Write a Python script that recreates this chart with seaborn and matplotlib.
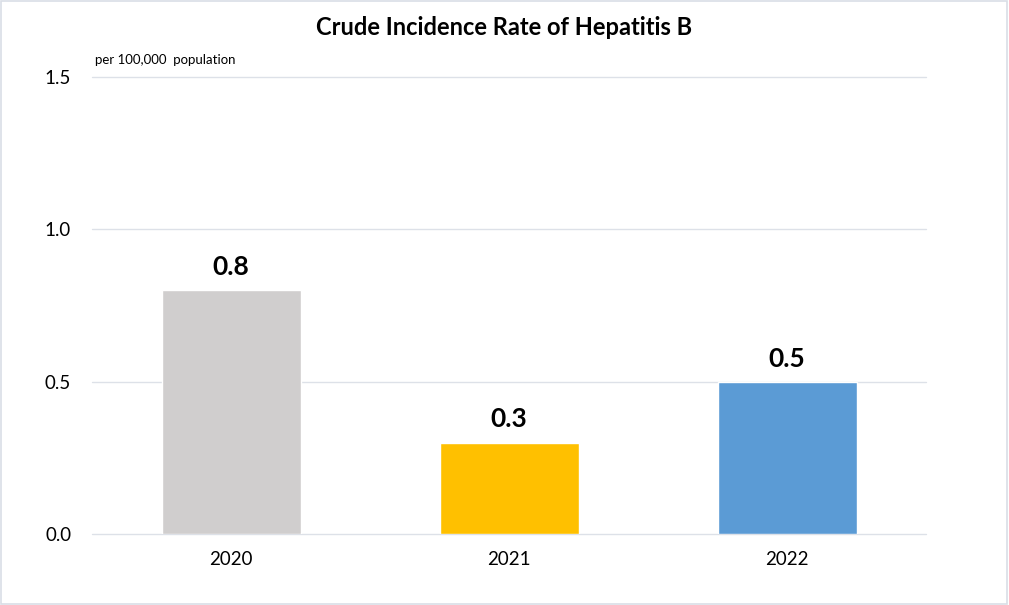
"""
Crude Incidence Rate of Hepatitis B - bar chart
"""
import matplotlib
matplotlib.use('Agg')
import matplotlib.pyplot as plt
import seaborn as sns
import pandas as pd
from matplotlib.patches import Rectangle

# Datos
years = ['2020', '2021', '2022']
rates = [0.8, 0.3, 0.5]
bar_colors = ['#D0CECE', '#FFC000', '#5B9BD5']
y_ticks = [0.0, 0.5, 1.0, 1.5]

df = pd.DataFrame({'year': years, 'rate': rates})

sns.set_style('white')
plt.rcParams['font.family'] = ['Lato', 'DejaVu Sans']
plt.rcParams['text.color'] = '#000000'

fig = plt.figure(figsize=(10.09, 6.05), dpi=100)
ax = fig.add_axes([0.0912, 0.1174, 0.8266, 0.7554])

sns.barplot(data=df, x='year', y='rate', hue='year', palette=bar_colors,
            width=0.5, legend=False, saturation=1, ax=ax, zorder=3)

ax.set_ylim(0, 1.5)
ax.set_yticks(y_ticks)
ax.set_yticklabels([f'{v:.1f}' for v in y_ticks])
ax.yaxis.grid(True, color='#DDE1E8', linewidth=1, zorder=0)
ax.set_axisbelow(True)
# que las líneas de 0.0 y 1.5 no queden recortadas
for gl in ax.get_ygridlines():
    gl.set_clip_on(False)
for s in ax.spines.values():
    s.set_visible(False)
ax.tick_params(axis='both', length=0, labelsize=13.5, colors='#000000')
ax.tick_params(axis='y', pad=15)
ax.tick_params(axis='x', pad=12)
ax.set_xlabel('')
ax.set_ylabel('')

# Etiquetas de valor
for cont in ax.containers:
    ax.bar_label(cont, fmt='%.1f', padding=8, fontsize=19, fontweight='bold',
                 color='#000000')

fig.text(0.5, 0.955, 'Crude Incidence Rate of Hepatitis B', ha='center', va='center',
         fontsize=17, fontweight='bold', color='#000000')
fig.text(0.094, 0.9, 'per 100,000  population', ha='left', va='center', fontsize=9.5,
         color='#000000')

# Borde de la figura
fig.patches.append(Rectangle((0.001, 0.002), 0.997, 0.996, transform=fig.transFigure,
                             fill=False, edgecolor='#D9DEE6', linewidth=1.2))

fig.savefig('out.png', dpi=100)
plt.close(fig)
